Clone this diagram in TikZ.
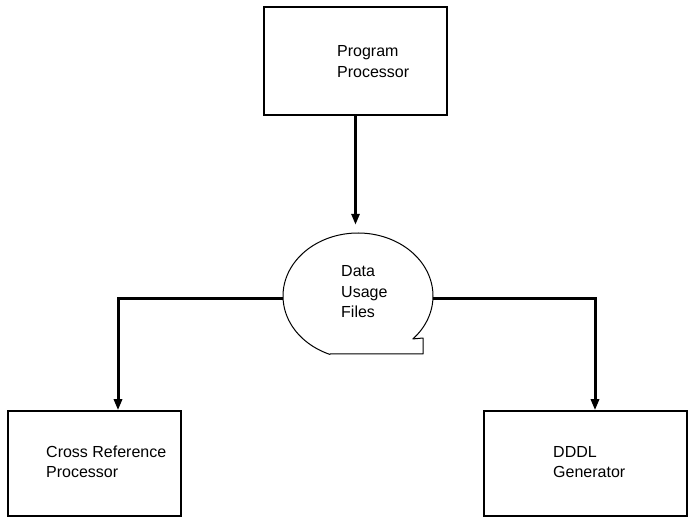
\documentclass[tikz,border=0pt]{standalone}
\usepackage{fontspec}
\setmainfont{Liberation Sans}
\usetikzlibrary{arrows.meta,shapes.geometric}
\begin{document}
\begin{tikzpicture}[x=1pt,y=-1pt,
  boxnode/.style={draw, line width=1.5pt, rectangle, inner sep=0pt},
  lbl/.style={inner sep=0pt, anchor=base west, font=\fontsize{16}{20.5}\selectfont},
  conn/.style={line width=3pt, -{Triangle[length=11pt,width=8pt]}},
  bubble/.style={line width=1pt, line join=round}]
\useasboundingbox (0,0) rectangle (688,518);
% boxes
\node[boxnode, minimum width=183pt, minimum height=108pt] (pp) at (355.5,61) {};
\node[boxnode, minimum width=173pt, minimum height=105pt] (crp) at (94.5,463.5) {};
\node[boxnode, minimum width=203pt, minimum height=105pt] (drg) at (585.5,463.5) {};
% data store bubble
\node[ellipse, minimum width=150pt, minimum height=126pt, inner sep=0pt] (duf) at (358,296) {};
\draw[bubble] plot[domain=112:403, samples=150] ({358+75*cos(\x)}, {296+63*sin(\x)})
  -- (423,338) -- (423,354) -- (330,354) -- cycle;
% labels
\node[lbl] (ppl) at (337,57) {\begin{tabular}[t]{@{}l@{}}Program\\Processor\end{tabular}};
\node[lbl] (dufl) at (341,277) {\begin{tabular}[t]{@{}l@{}}Data\\Usage\\Files\end{tabular}};
\node[lbl] (crpl) at (46,457) {\begin{tabular}[t]{@{}l@{}}Cross Reference\\Processor\end{tabular}};
\node[lbl] (drgl) at (553,457) {\begin{tabular}[t]{@{}l@{}}DDDL\\Generator\end{tabular}};
% connectors
\coordinate (t1) at ([yshift=8pt]duf.north);
\draw[conn] (pp.south) -- (pp.south |- t1);
\draw[conn] ([yshift=-3pt]duf.west) -| ([xshift=23.5pt]crp.north);
\draw[conn] ([yshift=-3pt]duf.east) -| ([xshift=9.5pt]drg.north);
\end{tikzpicture}
\end{document}
